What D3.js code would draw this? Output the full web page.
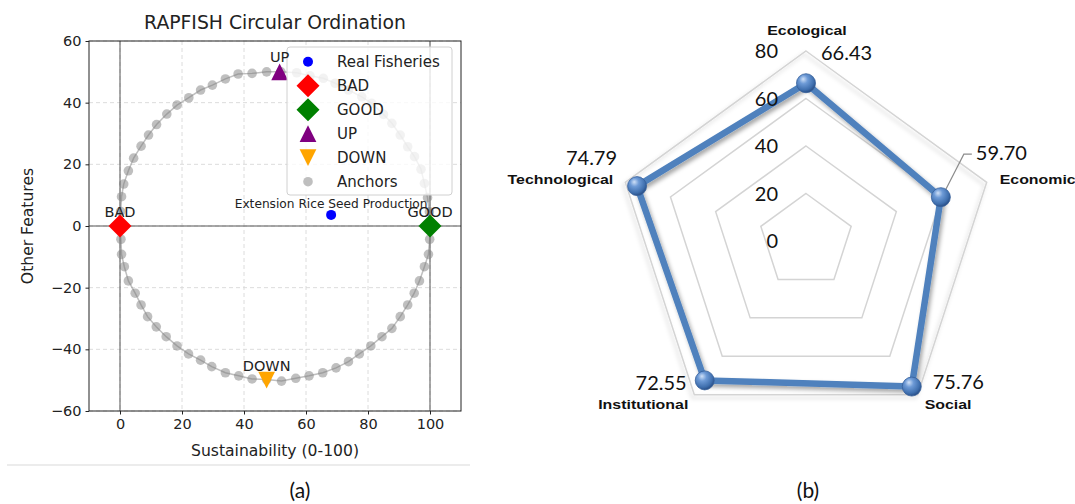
<!DOCTYPE html>
<html>
<head>
<meta charset="utf-8">
<script src="https://cdn.jsdelivr.net/npm/d3@7"></script>
<style>
  html, body { margin: 0; padding: 0; background: #fff; }
  svg { display: block; }
</style>
</head>
<body>
<svg id="chart" width="1075" height="504"></svg>
<script>
// ---------------- DATA ----------------
// Panel (a): RAPFISH circular ordination
const xTicks = [0, 20, 40, 60, 80, 100];
const yTicks = [-60, -40, -20, 0, 20, 40, 60];
const anchorX = [0.0, 0.2, 0.5, 1.2, 2.7, 4.4, 6.8, 9.2, 11.8, 15.1, 18.4, 22.2, 26.0, 29.8, 34.0, 38.1, 42.6, 47.3,
  51.9, 57.0, 61.3, 65.6, 69.4, 73.7, 78.0, 81.2, 85.0, 87.7, 90.4, 92.8, 95.0, 97.1, 98.2, 99.2, 99.8, 100.0,
  99.9, 99.5, 98.2, 96.6, 94.9, 92.8, 90.4, 87.7, 84.5, 80.9, 77.2, 73.7, 69.7, 65.4, 61.0, 56.7, 52.1, 47.3,
  42.6, 38.3, 34.0, 29.6, 26.0, 22.1, 18.4, 14.9, 11.7, 8.9, 6.8, 4.9, 2.7, 1.4, 0.5, 0.3];
const anchorY = [0.0, 4.7, 9.5, 13.6, 17.9, 22.0, 25.9, 29.5, 32.9, 36.3, 39.2, 41.6, 44.1, 45.7, 47.7, 49.3, 49.5, 50.0,
  50.0, 49.7, 48.7, 47.9, 46.3, 44.1, 41.9, 39.8, 36.2, 33.3, 29.5, 25.7, 22.5, 18.4, 13.8, 9.2, 4.6, 0.0,
  -4.3, -9.2, -13.2, -17.8, -21.8, -25.6, -29.4, -33.2, -35.9, -38.9, -41.5, -44.0, -46.0, -47.6, -48.6, -49.4, -50.3, -49.8,
  -49.6, -48.6, -47.6, -45.6, -43.5, -41.5, -38.9, -35.9, -32.7, -29.4, -25.6, -21.8, -17.8, -13.2, -9.2, -4.3];
const refNames = ["BAD", "GOOD", "UP", "DOWN"];
const refX = [0, 100, 51.5, 47.3];
const refY = [0, 0, 50, -50];
const fisheryNames = ["Extension Rice Seed Production"];
const fisheryX = [68.1];
const fisheryY = [3.6];
const legendLabels = ["Real Fisheries", "BAD", "GOOD", "UP", "DOWN", "Anchors"];

// Panel (b): radar
const radarCategories = ["Ecological", "Economic", "Social", "Institutional", "Technological"];
const radarValues = [66.43, 59.70, 75.76, 72.55, 74.79];
const radarTicks = [0, 20, 40, 60, 80];

// ---------------- DRAW ----------------
const svg = d3.select("#chart");
const defs = svg.append("defs");

// ===== Panel (a) =====
const mpl = "'DejaVu Sans', sans-serif";
const L = 89, R = 461, T = 41, B = 411;
const x = d3.scaleLinear().domain([-10, 110]).range([L, R]);
const y = d3.scaleLinear().domain([-60, 60]).range([B, T]);

const ga = svg.append("g");

// grid (dashed)
ga.append("g").selectAll("line").data(xTicks).join("line")
  .attr("x1", d => x(d)).attr("x2", d => x(d)).attr("y1", T).attr("y2", B)
  .attr("stroke", "#d8d8d8").attr("stroke-width", 0.9).attr("stroke-dasharray", "4,3");
ga.append("g").selectAll("line").data(yTicks).join("line")
  .attr("y1", d => y(d)).attr("y2", d => y(d)).attr("x1", L).attr("x2", R)
  .attr("stroke", "#d8d8d8").attr("stroke-width", 0.9).attr("stroke-dasharray", "4,3");

// reference lines
ga.append("line").attr("x1", L).attr("x2", R).attr("y1", y(0)).attr("y2", y(0))
  .attr("stroke", "#555").attr("stroke-width", 1);
[0, 100].forEach(v => ga.append("line").attr("x1", x(v)).attr("x2", x(v)).attr("y1", T).attr("y2", B)
  .attr("stroke", "#555").attr("stroke-width", 1));

// anchors
const anchors = anchorX.map((v, i) => [v, anchorY[i]]);
ga.append("path")
  .attr("d", d3.line().x(d => x(d[0])).y(d => y(d[1])).curve(d3.curveLinearClosed)(anchors))
  .attr("fill", "none").attr("stroke", "gray").attr("stroke-opacity", 0.5).attr("stroke-width", 1.5);
ga.append("g").selectAll("circle").data(anchors).join("circle")
  .attr("cx", d => x(d[0])).attr("cy", d => y(d[1])).attr("r", 4.8)
  .attr("fill", "gray").attr("fill-opacity", 0.5);

// marker shapes
function markerPath(kind) {
  if (kind === "diamond") return "M0,-11.5L11.5,0L0,11.5L-11.5,0Z";
  if (kind === "up") return "M0,-8.4L8.4,8.4L-8.4,8.4Z";
  if (kind === "down") return "M0,8.4L8.4,-8.4L-8.4,-8.4Z";
  return "";
}
const refKinds = ["diamond", "diamond", "up", "down"];
const refColors = ["#ff0000", "#008000", "#800080", "#ffa500"];

// real fishery point
ga.selectAll("circle.fish").data(fisheryNames).join("circle").attr("class", "fish")
  .attr("cx", (d, i) => x(fisheryX[i])).attr("cy", (d, i) => y(fisheryY[i])).attr("r", 5)
  .attr("fill", "#0000ff");

// reference markers
ga.append("g").selectAll("path").data(refNames).join("path")
  .attr("transform", (d, i) => `translate(${x(refX[i])},${y(refY[i])})`)
  .attr("d", (d, i) => markerPath(refKinds[i]))
  .attr("fill", (d, i) => refColors[i]);

// frame
ga.append("rect").attr("x", L).attr("y", T).attr("width", R - L).attr("height", B - T)
  .attr("fill", "none").attr("stroke", "#222").attr("stroke-width", 1);

// axes
const xAxis = d3.axisBottom(x).tickValues(xTicks).tickSize(3.5).tickPadding(4);
const yAxis = d3.axisLeft(y).tickValues(yTicks).tickSize(3.5).tickPadding(4)
  .tickFormat(d => d < 0 ? "\u2212" + Math.abs(d) : d);
const gx = ga.append("g").attr("transform", `translate(0,${B})`).call(xAxis);
const gy = ga.append("g").attr("transform", `translate(${L},0)`).call(yAxis);
[gx, gy].forEach(g => {
  g.select(".domain").remove();
  g.selectAll(".tick line").attr("stroke", "#222");
  g.selectAll(".tick text").attr("font-family", mpl).attr("font-size", 14.5).attr("fill", "#222");
});

// title and axis labels
ga.append("text").attr("x", (L + R) / 2).attr("y", 29).attr("text-anchor", "middle")
  .attr("font-family", mpl).attr("font-size", 18.8).attr("fill", "#222").text("RAPFISH Circular Ordination");
ga.append("text").attr("x", (L + R) / 2).attr("y", 456).attr("text-anchor", "middle")
  .attr("font-family", mpl).attr("font-size", 15.6).attr("fill", "#222").text("Sustainability (0-100)");
ga.append("text").attr("transform", `translate(33,${(T + B) / 2}) rotate(-90)`).attr("text-anchor", "middle")
  .attr("font-family", mpl).attr("font-size", 15.6).attr("fill", "#222").text("Other Features");

// legend
const lg = ga.append("g").attr("transform", "translate(287,47)");
lg.append("rect").attr("width", 165).attr("height", 148).attr("rx", 3)
  .attr("fill", "#fff").attr("fill-opacity", 0.8).attr("stroke", "#d0d0d0").attr("stroke-width", 1);
const legKinds = ["circle", "diamond", "diamond", "up", "down", "anchor"];
const legColors = ["#0000ff", "#ff0000", "#008000", "#800080", "#ffa500", "gray"];
const rows = lg.selectAll("g.row").data(legendLabels).join("g").attr("class", "row")
  .attr("transform", (d, i) => `translate(21,${14.7 + i * 24})`);
rows.each(function (d, i) {
  const g = d3.select(this);
  const k = legKinds[i];
  if (k === "circle") g.append("circle").attr("r", 5).attr("fill", legColors[i]);
  else if (k === "anchor") g.append("circle").attr("r", 4.8).attr("fill", "gray").attr("fill-opacity", 0.5);
  else g.append("path").attr("d", markerPath(k)).attr("fill", legColors[i]);
});
rows.append("text").attr("x", 29).attr("dy", "0.36em").attr("font-family", mpl).attr("font-size", 15)
  .attr("fill", "#222").text(d => d);

// labels (drawn above legend)
ga.append("g").selectAll("text").data(refNames).join("text")
  .attr("x", (d, i) => x(refX[i])).attr("y", (d, i) => y(refY[i]) - 9.5)
  .attr("text-anchor", "middle").attr("font-family", mpl).attr("font-size", 14.5)
  .attr("fill", "#222").text(d => d);
ga.append("g").selectAll("text").data(fisheryNames).join("text")
  .attr("x", (d, i) => x(fisheryX[i])).attr("y", (d, i) => y(fisheryY[i]) - 6.5)
  .attr("text-anchor", "middle").attr("font-family", mpl).attr("font-size", 12.2)
  .attr("fill", "#222").text(d => d);

// faint separator below panel (a)
svg.append("line").attr("x1", 7).attr("x2", 470).attr("y1", 465).attr("y2", 465)
  .attr("stroke", "#ececec").attr("stroke-width", 2);

// ===== Panel (b) =====
const cx = 806, cy = 241, RR = 190;
const r = d3.scaleLinear().domain([0, 80]).range([0, RR]);
const ang = i => i * 2 * Math.PI / radarCategories.length;
const pt = (i, v) => [cx + r(v) * Math.sin(ang(i)), cy - r(v) * Math.cos(ang(i))];

const shadow = defs.append("filter").attr("id", "shadow").attr("x", "-20%").attr("y", "-20%")
  .attr("width", "140%").attr("height", "140%");
shadow.append("feDropShadow").attr("dx", 2).attr("dy", 3).attr("stdDeviation", 2)
  .attr("flood-color", "#000").attr("flood-opacity", 0.35);
const gridShadow = defs.append("filter").attr("id", "gshadow").attr("x", "-20%").attr("y", "-20%")
  .attr("width", "140%").attr("height", "140%");
gridShadow.append("feDropShadow").attr("dx", -2).attr("dy", 3).attr("stdDeviation", 2)
  .attr("flood-color", "#000").attr("flood-opacity", 0.18);

const sphere = defs.append("radialGradient").attr("id", "sphere")
  .attr("cx", "40%").attr("cy", "35%").attr("r", "65%").attr("fx", "35%").attr("fy", "28%");
sphere.append("stop").attr("offset", "0%").attr("stop-color", "#cfe0f7");
sphere.append("stop").attr("offset", "35%").attr("stop-color", "#6d9ad6");
sphere.append("stop").attr("offset", "80%").attr("stop-color", "#3f6fae");
sphere.append("stop").attr("offset", "100%").attr("stop-color", "#2a5088");

const gb = svg.append("g");
const lineR = d3.lineRadial().curve(d3.curveLinearClosed);

// grid pentagons
gb.append("g").selectAll("path").data(radarTicks.filter(t => t > 0)).join("path")
  .attr("transform", `translate(${cx},${cy})`)
  .attr("d", t => lineR(radarCategories.map((c, i) => [ang(i), r(t)])))
  .attr("fill", "none").attr("stroke", "#d4d4d4").attr("stroke-width", 1.5)
  .attr("filter", t => t === 80 ? "url(#gshadow)" : null);

// data line
gb.append("path")
  .attr("transform", `translate(${cx},${cy})`)
  .attr("d", lineR(radarValues.map((v, i) => [ang(i), r(v)])))
  .attr("fill", "none").attr("stroke", "#4f81bd").attr("stroke-width", 6.5)
  .attr("stroke-linejoin", "round").attr("filter", "url(#shadow)");

// leader line for Economic
const eco = pt(1, radarValues[1]);
gb.append("path")
  .attr("d", `M${eco[0] + 3},${eco[1] - 4}L${eco[0] + 23},${eco[1] - 43}L${eco[0] + 31},${eco[1] - 43}`)
  .attr("fill", "none").attr("stroke", "#8c8c8c").attr("stroke-width", 1.2);

// markers
gb.append("g").selectAll("circle").data(radarValues).join("circle")
  .attr("cx", (v, i) => pt(i, v)[0]).attr("cy", (v, i) => pt(i, v)[1]).attr("r", 9.5)
  .attr("fill", "url(#sphere)").attr("stroke", "#36609a").attr("stroke-width", 0.8);

// tick labels (drawn above the data line)
const lato = "Lato, 'Open Sans', sans-serif";
gb.append("g").selectAll("text").data(radarTicks).join("text")
  .attr("x", cx - 28).attr("y", t => cy - r(t)).attr("dy", "0.36em")
  .attr("text-anchor", "end").attr("font-family", lato).attr("font-size", 20).attr("fill", "#111")
  .text(d => d);

// value labels (offsets from marker)
const valOff = [[15, -23, "start"], [35, -37, "start"], [21, 2.5, "start"], [-18, 9.5, "end"], [-20, -21, "end"]];
gb.append("g").selectAll("text").data(radarValues).join("text")
  .attr("x", (v, i) => pt(i, v)[0] + valOff[i][0]).attr("y", (v, i) => pt(i, v)[1] + valOff[i][1])
  .attr("text-anchor", (v, i) => valOff[i][2])
  .attr("font-family", lato).attr("font-size", 20).attr("fill", "#111")
  .text(v => v.toFixed(2));

// category labels (offsets from outer vertex)
const catOff = [[1, -16, "middle"], [13, 2, "start"], [7, 14, "start"], [-6, 14, "end"], [-12, 2, "end"]];
gb.append("g").selectAll("text").data(radarCategories).join("text")
  .attr("transform", (c, i) => {
    const p = pt(i, 80);
    return `translate(${p[0] + catOff[i][0]},${p[1] + catOff[i][1]}) scale(1.17,1)`;
  })
  .attr("text-anchor", (c, i) => catOff[i][2])
  .attr("font-family", "'Liberation Sans', Arial, sans-serif").attr("font-weight", "bold")
  .attr("font-size", 13.6).attr("fill", "#111").text(c => c);

// panel captions
svg.append("text").attr("x", 300).attr("y", 498).attr("text-anchor", "middle")
  .attr("font-family", lato).attr("font-size", 21).attr("fill", "#111").text("(a)");
svg.append("text").attr("x", 808).attr("y", 498).attr("text-anchor", "middle")
  .attr("font-family", lato).attr("font-size", 21).attr("fill", "#111").text("(b)");
</script>
</body>
</html>
